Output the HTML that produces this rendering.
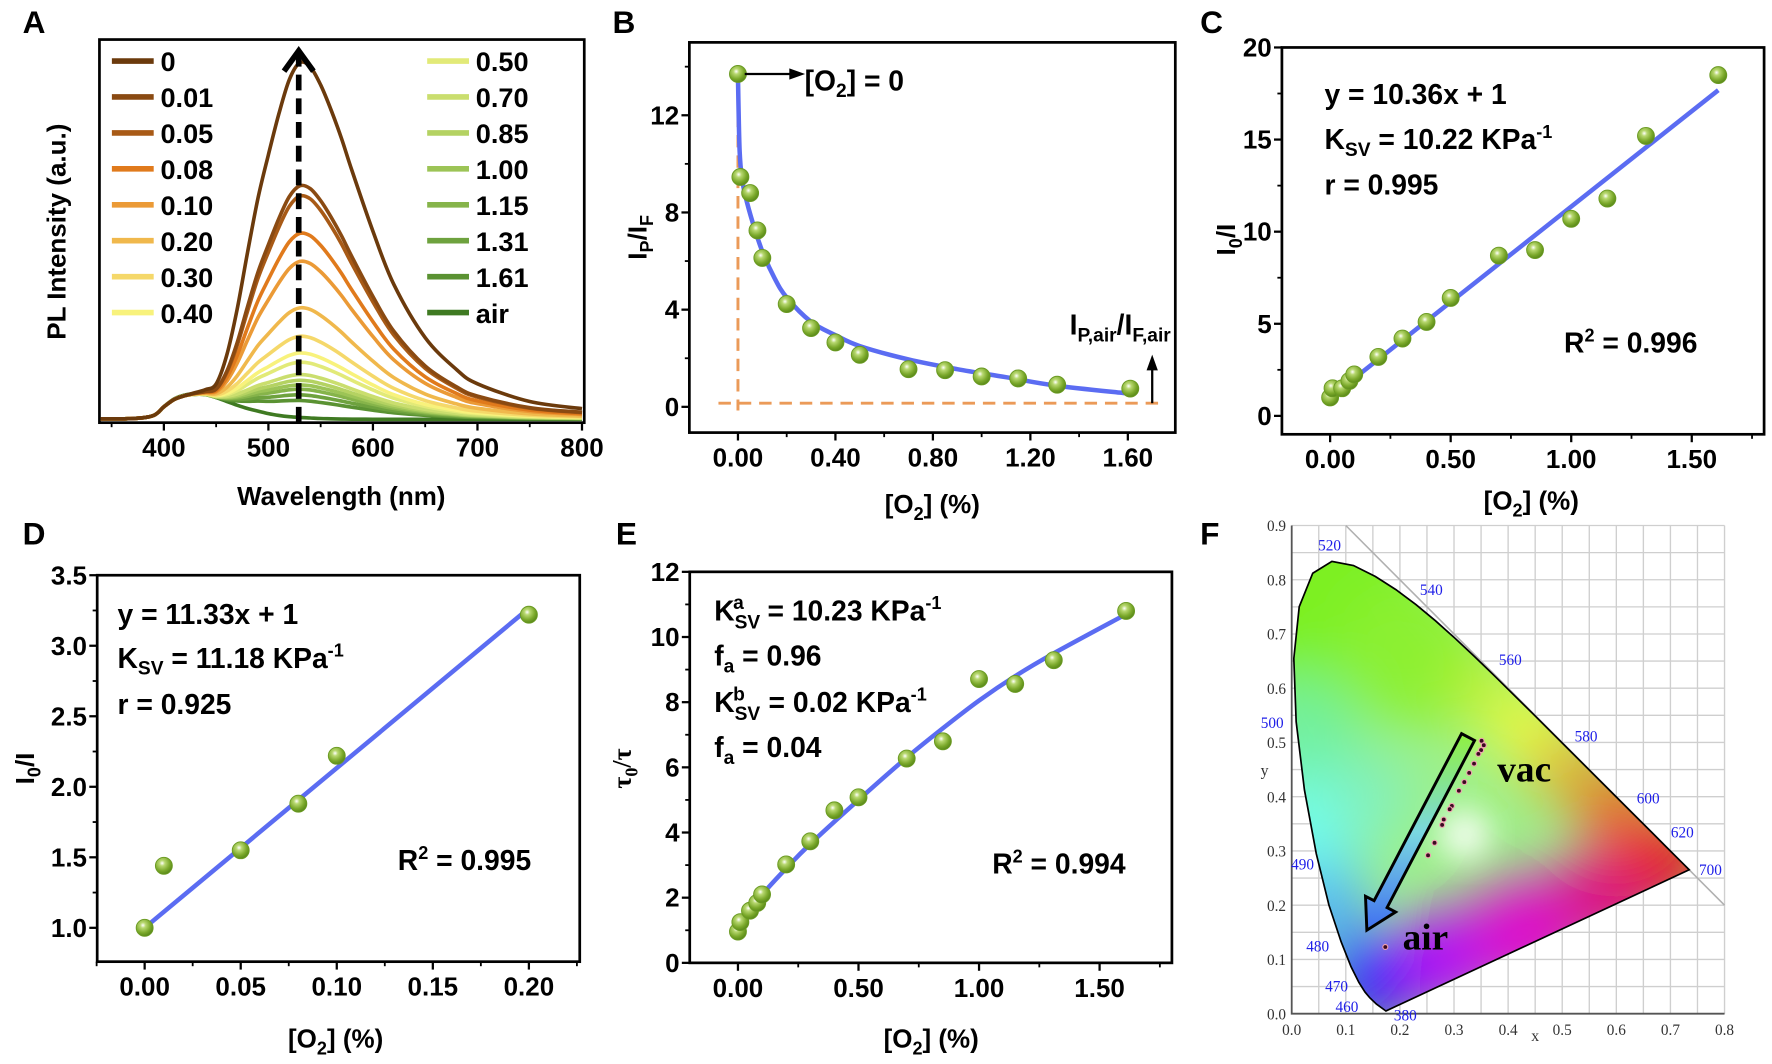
<!DOCTYPE html>
<html><head><meta charset="utf-8">
<style>
html,body{margin:0;padding:0;background:#fff;}
svg{display:block;font-family:"Liberation Sans",Arial,sans-serif;}
.b{font-weight:bold;}
.tk{font-size:23px;font-weight:bold;fill:#000;}
.ti{font-size:23px;font-weight:bold;fill:#000;}
.an{font-size:25px;font-weight:bold;fill:#000;}
.lt{font-size:28px;font-weight:bold;fill:#000;}
.lg{font-size:24px;font-weight:bold;fill:#000;}
.fs{font-family:"Liberation Serif",serif;}
</style></head>
<body>
<svg id="fig" xmlns="http://www.w3.org/2000/svg" width="1772" height="1064" viewBox="0 0 1568 941.5" preserveAspectRatio="none">
<defs>
<radialGradient id="ball" cx="0.4" cy="0.35" r="0.65">
<stop offset="0" stop-color="#ffffff"/><stop offset="0.25" stop-color="#b8d870"/><stop offset="0.7" stop-color="#7aa82a"/><stop offset="1" stop-color="#5a8a1a"/>
</radialGradient>
<linearGradient id="arrG" x1="0" y1="0" x2="0" y2="1">
<stop offset="0" stop-color="#90f040"/><stop offset="0.5" stop-color="#7ad8e0"/><stop offset="1" stop-color="#4070f0"/>
</linearGradient>
<filter id="blur" x="-50%" y="-50%" width="200%" height="200%"><feGaussianBlur stdDeviation="26"/></filter>
<filter id="blur2" x="-50%" y="-50%" width="200%" height="200%"><feGaussianBlur stdDeviation="14"/></filter>
<clipPath id="locusClip"><path id="locusClipPath" d=""/></clipPath>
</defs>

<text class="lt" x="20" y="29">A</text>
<text class="lt" x="542" y="29">B</text>
<text class="lt" x="1062" y="29">C</text>
<text class="lt" x="20" y="482">D</text>
<text class="lt" x="545" y="482">E</text>
<text class="lt" x="1062" y="482">F</text>

<text class="ti" transform="translate(58,205) rotate(-90)" text-anchor="middle">PL Intensity (a.u.)</text>
<text class="ti" x="302" y="447" text-anchor="middle">Wavelength (nm)</text>
<text class="ti" transform="translate(572,210) rotate(-90)" text-anchor="middle">I<tspan font-size="16" dy="6">P</tspan><tspan dy="-6">/I</tspan><tspan font-size="16" dy="6">F</tspan></text>
<text class="ti" x="825" y="454" text-anchor="middle">[O<tspan font-size="16" dy="6">2</tspan><tspan dy="-6">] (%)</tspan></text>
<text class="ti" transform="translate(1093,212) rotate(-90)" text-anchor="middle">I<tspan font-size="16" dy="6">0</tspan><tspan dy="-6">/I</tspan></text>
<text class="ti" x="1355" y="451" text-anchor="middle">[O<tspan font-size="16" dy="6">2</tspan><tspan dy="-6">] (%)</tspan></text>
<text class="ti" transform="translate(30,680) rotate(-90)" text-anchor="middle">I<tspan font-size="16" dy="6">0</tspan><tspan dy="-6">/I</tspan></text>
<text class="ti" x="297" y="927" text-anchor="middle">[O<tspan font-size="16" dy="6">2</tspan><tspan dy="-6">] (%)</tspan></text>
<text class="ti" transform="translate(558,680) rotate(-90)" text-anchor="middle" style="font-family:'Liberation Serif',serif">τ<tspan font-size="16" dy="6">0</tspan><tspan dy="-6">/τ</tspan></text>
<text class="ti" x="824" y="927" text-anchor="middle">[O<tspan font-size="16" dy="6">2</tspan><tspan dy="-6">] (%)</tspan></text>

<text class="an" x="712" y="80">[O<tspan font-size="17" dy="6">2</tspan><tspan dy="-6">] = 0</tspan></text>
<text class="an" x="1036" y="296" text-anchor="end">I<tspan font-size="17" dy="6">P,air</tspan><tspan dy="-6">/I</tspan><tspan font-size="17" dy="6">F,air</tspan></text>

<text class="an" x="1172" y="92">y = 10.36x + 1</text>
<text class="an" x="1172" y="132">K<tspan font-size="17" dy="6">SV</tspan><tspan dy="-6"> = 10.22 KPa</tspan><tspan font-size="16" dy="-10">-1</tspan></text>
<text class="an" x="1172" y="172">r = 0.995</text>
<text class="an" x="1384" y="312">R<tspan font-size="16" dy="-10">2</tspan><tspan dy="10"> = 0.996</tspan></text>

<text class="an" x="104" y="552">y = 11.33x + 1</text>
<text class="an" x="104" y="591">K<tspan font-size="17" dy="6">SV</tspan><tspan dy="-6"> = 11.18 KPa</tspan><tspan font-size="16" dy="-10">-1</tspan></text>
<text class="an" x="104" y="632">r = 0.925</text>
<text class="an" x="352" y="770">R<tspan font-size="16" dy="-10">2</tspan><tspan dy="10"> = 0.995</tspan></text>

<text class="an" x="632" y="549">K<tspan font-size="17" dy="7">SV</tspan><tspan font-size="17" dx="-24" dy="-17">a</tspan><tspan dx="14" dy="10"> = 10.23 KPa</tspan><tspan font-size="16" dy="-10">-1</tspan></text>
<text class="an" x="632" y="589">f<tspan font-size="17" dy="6">a</tspan><tspan dy="-6"> = 0.96</tspan></text>
<text class="an" x="632" y="630">K<tspan font-size="17" dy="7">SV</tspan><tspan font-size="17" dx="-24" dy="-17">b</tspan><tspan dx="14" dy="10"> = 0.02 KPa</tspan><tspan font-size="16" dy="-10">-1</tspan></text>
<text class="an" x="632" y="670">f<tspan font-size="17" dy="6">a</tspan><tspan dy="-6"> = 0.04</tspan></text>
<text class="an" x="878" y="773">R<tspan font-size="16" dy="-10">2</tspan><tspan dy="10"> = 0.994</tspan></text>

<g id="gA"></g>
<g id="gB"></g>
<g id="gC"></g>
<g id="gD"></g>
<g id="gE"></g>
<g id="gF"></g>
</svg>

<script>
// ---------------- DATA ----------------
const aLabels = ["0","0.01","0.05","0.08","0.10","0.20","0.30","0.40","0.50","0.70","0.85","1.00","1.15","1.31","1.61","air"];
const aColors = ["#6b3a0c","#8a4a12","#a85a16","#e07a1c","#eb9a36","#f0b84c","#f5d86a","#f8f27c","#e2ea78","#cade6e","#b4d262","#9cc456","#86b44a","#6ea23e","#5a9232","#3f7a22"];
const aPhosAmp = [1.0,0.653,0.624,0.519,0.44,0.309,0.229,0.182,0.156,0.121,0.105,0.092,0.08,0.064,0.048,0.0];
const aFlAmp = [0.07,0.07,0.07,0.07,0.07,0.07,0.07,0.07,0.07,0.07,0.07,0.07,0.07,0.07,0.07,0.072];
const aWl = [330,370,390,400,410,420,430,440,450,460,470,480,490,500,510,520,530,540,550,560,570,580,600,620,650,680,700,750,800];
const aPhosShape = [0,0,0,0,0,0,0.005,0.015,0.04,0.13,0.27,0.44,0.6,0.73,0.85,0.95,1.0,0.99,0.94,0.87,0.79,0.7,0.53,0.38,0.23,0.14,0.1,0.05,0.03];
const aFlShape = [0.02,0.03,0.15,0.5,0.8,0.95,1.0,0.98,0.85,0.7,0.55,0.42,0.32,0.22,0.15,0.1,0.07,0.05,0.03,0.02,0.01,0.005,0,0,0,0,0,0,0];
const aXTicks = [400,500,600,700,800];
const aXMinor = [350,450,550,650,750];

const bX = [0,0.01,0.05,0.08,0.10,0.20,0.30,0.40,0.50,0.70,0.85,1.00,1.15,1.31,1.61];
const bY = [13.7,9.46,8.8,7.26,6.13,4.23,3.24,2.65,2.14,1.55,1.51,1.25,1.17,0.91,0.75];
const bFitX = [0,0.003,0.007,0.015,0.03,0.06,0.1,0.15,0.2,0.3,0.4,0.5,0.7,0.9,1.1,1.3,1.6];
const bFitY = [13.6,12.0,10.5,9.5,8.7,7.6,6.4,5.3,4.5,3.5,2.95,2.5,1.95,1.55,1.22,0.88,0.55];
const bYTicks = [0,4,8,12];
const bYMinor = [2,6,10,14];
const bXTicks = [0,0.4,0.8,1.2,1.6];
const bXTickLabels = ["0.00","0.40","0.80","1.20","1.60"];
const bXMinor = [0.2,0.6,1.0,1.4];

const cX = [0,0.01,0.05,0.08,0.10,0.20,0.30,0.40,0.50,0.70,0.85,1.00,1.15,1.31,1.61];
const cY = [1.0,1.5,1.5,1.9,2.25,3.2,4.2,5.1,6.4,8.7,9.0,10.7,11.8,15.2,18.5];
const cSlope = 10.36, cIntercept = 1;
const cYTicks = [0,5,10,15,20];
const cYMinor = [2.5,7.5,12.5,17.5];
const cXTicks = [0,0.5,1.0,1.5];
const cXTickLabels = ["0.00","0.50","1.00","1.50"];
const cXMinor = [0.25,0.75,1.25,1.75];

const dX = [0,0.01,0.05,0.08,0.10,0.20];
const dY = [1.0,1.44,1.55,1.88,2.22,3.22];
const dSlope = 11.33, dIntercept = 1;
const dYTicks = [1.0,1.5,2.0,2.5,3.0,3.5];
const dYTickLabels = ["1.0","1.5","2.0","2.5","3.0","3.5"];
const dYMinor = [1.25,1.75,2.25,2.75,3.25];
const dXTicks = [0,0.05,0.10,0.15,0.20];
const dXTickLabels = ["0.00","0.05","0.10","0.15","0.20"];
const dXMinor = [-0.025,0.025,0.075,0.125,0.175,0.225];

const eX = [0,0.01,0.05,0.08,0.10,0.20,0.30,0.40,0.50,0.70,0.85,1.00,1.15,1.31,1.61];
const eY = [0.96,1.25,1.6,1.84,2.1,3.02,3.73,4.68,5.08,6.27,6.8,8.71,8.56,9.29,10.8];
const eFitX = [0,0.05,0.1,0.2,0.3,0.5,0.7,0.85,1.0,1.15,1.31,1.61];
const eFitY = [1.0,1.55,2.09,2.9,3.65,5.0,6.3,7.2,8.05,8.8,9.5,10.7];
const eYTicks = [0,2,4,6,8,10,12];
const eYMinor = [1,3,5,7,9,11];
const eXTicks = [0,0.5,1.0,1.5];
const eXTickLabels = ["0.00","0.50","1.00","1.50"];
const eXMinor = [0.25,0.75,1.25,1.75];

const fLocusX = [0.1741,0.1566,0.1440,0.1355,0.1241,0.1096,0.0913,0.0687,0.0454,0.0235,0.0082,0.0039,0.0139,0.0389,0.0743,0.1142,0.1547,0.1929,0.2296,0.2658,0.3016,0.3373,0.3731,0.4441,0.5125,0.5752,0.6270,0.6658,0.6915,0.7190,0.7347];
const fLocusY = [0.0050,0.0177,0.0297,0.0399,0.0578,0.0868,0.1327,0.2007,0.2950,0.4127,0.5384,0.6548,0.7502,0.8120,0.8338,0.8262,0.8059,0.7816,0.7543,0.7243,0.6923,0.6589,0.6245,0.5547,0.4866,0.4242,0.3725,0.3340,0.3083,0.2809,0.2653];
const fWlLabels = ["520","540","560","580","600","620","700","500","490","480","470","460","380"];
const fWlX = [0.07,0.258,0.404,0.544,0.659,0.722,0.774,-0.036,0.02,0.048,0.083,0.102,0.21];
const fWlY = [0.864,0.782,0.653,0.512,0.398,0.335,0.266,0.537,0.276,0.125,0.051,0.014,-0.002];
const fDotX = [0.351,0.355,0.350,0.345,0.337,0.328,0.319,0.309,0.296,0.292,0.281,0.278,0.264,0.252];
const fDotY = [0.503,0.495,0.486,0.479,0.461,0.444,0.427,0.411,0.383,0.377,0.358,0.348,0.315,0.292];
const fAirX = [0.173];
const fAirY = [0.123];
const fTicks = [0,0.1,0.2,0.3,0.4,0.5,0.6,0.7,0.8,0.9];
const fTickLabels = ["0.0","0.1","0.2","0.3","0.4","0.5","0.6","0.7","0.8","0.9"];

// ---------------- HELPERS ----------------
const NS = "http://www.w3.org/2000/svg";
function mk(tag, attrs, parent){
  const e = document.createElementNS(NS, tag);
  for (const k in attrs) e.setAttribute(k, attrs[k]);
  parent.appendChild(e);
  return e;
}
function smooth(pts){
  if (pts.length < 2) return "";
  let d = "M" + pts[0][0].toFixed(2) + "," + pts[0][1].toFixed(2);
  for (let i = 0; i < pts.length - 1; i++){
    const p0 = pts[Math.max(i-1,0)], p1 = pts[i], p2 = pts[i+1], p3 = pts[Math.min(i+2,pts.length-1)];
    const c1x = p1[0] + (p2[0]-p0[0])/6, c1y = p1[1] + (p2[1]-p0[1])/6;
    const c2x = p2[0] - (p3[0]-p1[0])/6, c2y = p2[1] - (p3[1]-p1[1])/6;
    d += "C" + c1x.toFixed(2) + "," + c1y.toFixed(2) + " " + c2x.toFixed(2) + "," + c2y.toFixed(2) + " " + p2[0].toFixed(2) + "," + p2[1].toFixed(2);
  }
  return d;
}
function linScale(d0, d1, r0, r1){ return v => r0 + (v - d0) * (r1 - r0) / (d1 - d0); }

function frame(g, L, T, R, B, sx, sy, xt, xtl, xm, yt, ytl, ym, prefix){
  const box = mk("rect", {x:L, y:T, width:R-L, height:B-T, fill:"none", stroke:"#000", "stroke-width":2.4}, g);
  
  
  xt.forEach((v,i)=>{
    const x = sx(v);
    const t = mk("line", {x1:x, y1:B, x2:x, y2:B+7, stroke:"#000", "stroke-width":2}, g);
    
    
    if (xtl){
      const tx = mk("text", {x:x, y:B+30, "text-anchor":"middle", class:"tk"}, g);
      tx.textContent = xtl[i];
      
      
    }
  });
  xm.forEach(v=>{
    const x = sx(v);
    if (x < L-1 || x > R+1) return;
    const t = mk("line", {x1:x, y1:B, x2:x, y2:B+4, stroke:"#000", "stroke-width":1.6}, g);
    
    
  });
  if (yt){
    yt.forEach((v,i)=>{
      const y = sy(v);
      const t = mk("line", {x1:L-7, y1:y, x2:L, y2:y, stroke:"#000", "stroke-width":2}, g);
      
      
      const tx = mk("text", {x:L-9, y:y+8, "text-anchor":"end", class:"tk"}, g);
      tx.textContent = ytl[i];
      
      
    });
    ym.forEach(v=>{
      const y = sy(v);
      const t = mk("line", {x1:L-4, y1:y, x2:L, y2:y, stroke:"#000", "stroke-width":1.6}, g);
      
      
    });
  }
}
function balls(g, xs, ys, sx, sy, prefix){
  xs.forEach((v,i)=>{
    const c = mk("circle", {cx:sx(v), cy:sy(ys[i]), r:7.5, fill:"url(#ball)", stroke:"#6a9a22", "stroke-width":0.8}, g);
    
    
  });
}

// ---------------- PANEL A ----------------
(function(){
  const g = document.getElementById("gA");
  const L=88, R=517, T=35, B=374;
  const sx = linScale(400, 800, 145, 515);
  const sy = linScale(0, 1, 371, 57);
  frame(g, L, T, R, B, sx, sy, aXTicks, aXTicks.map(String), aXMinor, null, null, null, "a");
  const clip = mk("clipPath", {id:"clipA"}, g);
  mk("rect", {x:L+1, y:T+1, width:R-L-2, height:B-T-2}, clip);
  const cg = mk("g", {"clip-path":"url(#clipA)"}, g);
  for (let s = aLabels.length - 1; s >= 0; s--){
    const pts = aWl.map((w,i)=>[sx(w), sy(aPhosAmp[s]*aPhosShape[i] + aFlAmp[s]*aFlShape[i])]);
    const p = mk("path", {d:smooth(pts), fill:"none", stroke:aColors[s], "stroke-width":3.2, "stroke-linejoin":"round"}, cg);
    
    
  }
  const ax = sx(529);
  const da = mk("line", {x1:ax, y1:B, x2:ax, y2:T+14, stroke:"#000", "stroke-width":5, "stroke-dasharray":"14,7"}, g);
  
  
  const ah = mk("path", {d:`M${ax-13},${T+28} L${ax},${T+10} L${ax+13},${T+28}`, fill:"none", stroke:"#000", "stroke-width":5}, g);
  
  
  aLabels.forEach((lab,i)=>{
    const col = i < 8 ? 0 : 1;
    const row = i % 8;
    const y = 54 + row * 31.8;
    const x0 = col === 0 ? 99 : 378;
    const ln = mk("line", {x1:x0, y1:y, x2:x0+37, y2:y, stroke:aColors[i], "stroke-width":5}, g);
    
    
    const t = mk("text", {x:x0+43, y:y+9, class:"lg"}, g);
    t.textContent = lab;
    
    
  });
})();

// ---------------- PANEL B ----------------
(function(){
  const g = document.getElementById("gB");
  const sx = linScale(0, 1.6, 653, 998);
  const sy = linScale(0, 12, 360, 102);
  const L=610, R=1040, T=sy(15), B=sy(-1.06);
  frame(g, L, T, R, B, sx, sy, bXTicks, bXTickLabels, bXMinor, bYTicks, bYTicks.map(String), bYMinor, "b");
  const v = mk("line", {x1:sx(0), y1:sy(bY[0]), x2:sx(0), y2:sy(-0.15), stroke:"#eb9a58", "stroke-width":2.6, "stroke-dasharray":"11,7"}, g);
  
  
  const h = mk("line", {x1:sx(-0.08), y1:sy(0.15), x2:sx(1.74), y2:sy(0.15), stroke:"#eb9a58", "stroke-width":2.6, "stroke-dasharray":"11,7"}, g);
  
  
  const fit = mk("path", {d:smooth(bFitX.map((x,i)=>[sx(x), sy(bFitY[i])])), fill:"none", stroke:"#5b6cf2", "stroke-width":4}, g);
  
  
  balls(g, bX, bY, sx, sy, "b");
  const y0 = sy(bY[0]);
  const ar = mk("line", {x1:sx(0)+6, y1:y0, x2:sx(0.22), y2:y0, stroke:"#000", "stroke-width":2}, g);
  
  
  const arh = mk("path", {d:`M${sx(0.22)+12},${y0} L${sx(0.22)-2},${y0-5} L${sx(0.22)-2},${y0+5} Z`, fill:"#000"}, g);
  
  
  const ux = sx(1.70);
  const au = mk("line", {x1:ux, y1:sy(0.15), x2:ux, y2:sy(1.6), stroke:"#000", "stroke-width":2}, g);
  
  
  const auh = mk("path", {d:`M${ux},${sy(2.15)} L${ux-5},${sy(1.5)} L${ux+5},${sy(1.5)} Z`, fill:"#000"}, g);
  
  
})();

// ---------------- PANEL C ----------------
(function(){
  const g = document.getElementById("gC");
  const sx = linScale(0, 1.5, 1177, 1497);
  const sy = linScale(0, 20, 368, 42);
  const L=sx(-0.2), R=sx(1.8), T=sy(20), B=sy(-1);
  frame(g, L, T, R, B, sx, sy, cXTicks, cXTickLabels, cXMinor, cYTicks, cYTicks.map(String), cYMinor, "c");
  const x1 = cX[0], x2 = cX[cX.length-1];
  const fl = mk("line", {x1:sx(x1), y1:sy(cSlope*x1+cIntercept), x2:sx(x2), y2:sy(cSlope*x2+cIntercept), stroke:"#5b6cf2", "stroke-width":4}, g);
  
  
  balls(g, cX, cY, sx, sy, "c");
})();

// ---------------- PANEL D ----------------
(function(){
  const g = document.getElementById("gD");
  const sx = linScale(0, 0.2, 128, 468);
  const sy = linScale(1.0, 3.5, 821, 509);
  const L=86, R=513, T=sy(3.5), B=sy(0.76);
  frame(g, L, T, R, B, sx, sy, dXTicks, dXTickLabels, dXMinor, dYTicks, dYTickLabels, dYMinor, "d");
  const x1 = dX[0], x2 = dX[dX.length-1];
  const fl = mk("line", {x1:sx(x1), y1:sy(dSlope*x1+dIntercept), x2:sx(x2), y2:sy(dSlope*x2+dIntercept), stroke:"#5b6cf2", "stroke-width":4}, g);
  
  
  balls(g, dX, dY, sx, sy, "d");
})();

// ---------------- PANEL E ----------------
(function(){
  const g = document.getElementById("gE");
  const sx = linScale(0, 1.5, 653, 973);
  const sy = linScale(0, 12, 852, 506);
  const L=sx(-0.2), R=sx(1.8), T=sy(12), B=sy(0);
  frame(g, L, T, R, B, sx, sy, eXTicks, eXTickLabels, eXMinor, eYTicks, eYTicks.map(String), eYMinor, "e");
  const fit = mk("path", {d:smooth(eFitX.map((x,i)=>[sx(x), sy(eFitY[i])])), fill:"none", stroke:"#5b6cf2", "stroke-width":4}, g);
  
  
  balls(g, eX, eY, sx, sy, "e");
})();

// ---------------- PANEL F ----------------
(function(){
  const g = document.getElementById("gF");
  const sx = linScale(0, 0.8, 1143, 1526);
  const sy = linScale(0, 0.9, 897, 465);
  for (let k = 0; k <= 16; k++){
    const v = k * 0.05;
    const gl = mk("line", {x1:sx(v), y1:sy(0), x2:sx(v), y2:sy(0.9), stroke:"#cfcfcf", "stroke-width":1.2}, g);
    
    
  }
  for (let k = 0; k <= 18; k++){
    const v = k * 0.05;
    const gl = mk("line", {x1:sx(0), y1:sy(v), x2:sx(0.8), y2:sy(v), stroke:"#cfcfcf", "stroke-width":1.2}, g);
    
    
  }
  const diag = mk("line", {x1:sx(0.1), y1:sy(0.9), x2:sx(0.8), y2:sy(0.2), stroke:"#b0b0b0", "stroke-width":1.4}, g);
  
  
  let d = "";
  fLocusX.forEach((x,i)=>{ d += (i ? "L" : "M") + sx(x).toFixed(2) + "," + sy(fLocusY[i]).toFixed(2); });
  d += "Z";
  document.getElementById("locusClipPath").setAttribute("d", d);
  const cg = mk("g", {"clip-path":"url(#locusClip)"}, g);
  mk("path", {d:d, fill:"#9ef08a"}, cg);
  const blobs = mk("g", {filter:"url(#blur)"}, cg);
  const bl = [[0.07,0.76,0.2,"#7cf020"],[0.22,0.66,0.14,"#8cf030"],[0.02,0.52,0.1,"#70f0a0"],[0.03,0.34,0.1,"#70fff0"],[0.06,0.2,0.08,"#50b0ff"],[0.15,0.06,0.09,"#0818ff"],[0.28,0.1,0.09,"#b000ff"],[0.43,0.15,0.1,"#e000d0"],[0.58,0.22,0.09,"#e00080"],[0.7,0.28,0.08,"#e80010"],[0.6,0.38,0.07,"#f06010"],[0.5,0.46,0.06,"#f0a020"],[0.43,0.53,0.06,"#ffff30"],[0.35,0.6,0.06,"#c0f030"],[0.14,0.4,0.08,"#80f0c0"]];
  bl.forEach(b=>{ mk("circle", {cx:sx(b[0]), cy:sy(b[1]), r:b[2]*480, fill:b[3]}, blobs); });
  mk("circle", {cx:sx(0.32), cy:sy(0.33), r:22, fill:"#ffffff", filter:"url(#blur2)", opacity:0.9}, cg);
  const loc = mk("path", {d:d, fill:"none", stroke:"#000", "stroke-width":1.5}, g);
  
  
  const axl = mk("path", {d:`M${sx(0)},${sy(0.9)} L${sx(0)},${sy(0)} L${sx(0.8)},${sy(0)}`, fill:"none", stroke:"#555", "stroke-width":1.6}, g);
  
  
  fTicks.forEach((v,i)=>{
    if (v <= 0.8){
      const t = mk("text", {x:sx(v), y:sy(0)+19, "text-anchor":"middle", class:"fs", "font-size":"13.5", fill:"#333"}, g);
      t.textContent = fTickLabels[i];
      
      
    }
    const ty = mk("text", {x:sx(0)-5, y:sy(v)+5, "text-anchor":"end", class:"fs", "font-size":"13.5", fill:"#333"}, g);
    ty.textContent = fTickLabels[i];
    
    
  });
  const xl = mk("text", {x:sx(0.45), y:sy(0)+24, "text-anchor":"middle", class:"fs", "font-size":"14", fill:"#333"}, g);
  xl.textContent = "x";
  
  
  const yl = mk("text", {x:sx(0)-24, y:sy(0.45)+5, "text-anchor":"middle", class:"fs", "font-size":"14", fill:"#333"}, g);
  yl.textContent = "y";
  
  
  fWlLabels.forEach((lab,i)=>{
    const t = mk("text", {x:sx(fWlX[i]), y:sy(fWlY[i])+5, "text-anchor":"middle", class:"fs", "font-size":"13.5", fill:"#2020e8"}, g);
    t.textContent = lab;
    
    
  });
  const ax1 = sx(0.326), ay1 = sy(0.51), ax2 = sx(0.139), ay2 = sy(0.154);
  const dx = ax2-ax1, dy = ay2-ay1, len = Math.hypot(dx,dy), ux = dx/len, uy = dy/len, px = -uy, py = ux;
  const w = 6.5, hw = 15, hl = 26;
  const bx = ax2 - ux*hl, by = ay2 - uy*hl;
  const pts = [[ax1+px*w, ay1+py*w],[bx+px*w, by+py*w],[bx+px*hw, by+py*hw],[ax2, ay2],[bx-px*hw, by-py*hw],[bx-px*w, by-py*w],[ax1-px*w, ay1-py*w]];
  const arr = mk("path", {d:"M" + pts.map(p=>p[0].toFixed(1)+","+p[1].toFixed(1)).join(" L") + " Z", fill:"url(#arrG)", stroke:"#000", "stroke-width":2.6, "stroke-linejoin":"miter"}, g);
  
  
  fDotX.forEach((x,i)=>{
    const c = mk("circle", {cx:sx(x), cy:sy(fDotY[i]), r:2.2, fill:"#3a0a20", stroke:"#f0a0b0", "stroke-width":1}, g);
    
    
  });
  fAirX.forEach((x,i)=>{
    const c = mk("circle", {cx:sx(x), cy:sy(fAirY[i]), r:2.2, fill:"#3a0a20", stroke:"#f0a0b0", "stroke-width":1}, g);
    
    
  });
  const tv = mk("text", {x:sx(0.38), y:sy(0.428), class:"fs", "font-size":"33", "font-weight":"bold", fill:"#000"}, g);
  tv.textContent = "vac";
  
  
  const ta = mk("text", {x:sx(0.205), y:sy(0.118), class:"fs", "font-size":"33", "font-weight":"bold", fill:"#000"}, g);
  ta.textContent = "air";
  
  
})();
</script>
</body></html>
